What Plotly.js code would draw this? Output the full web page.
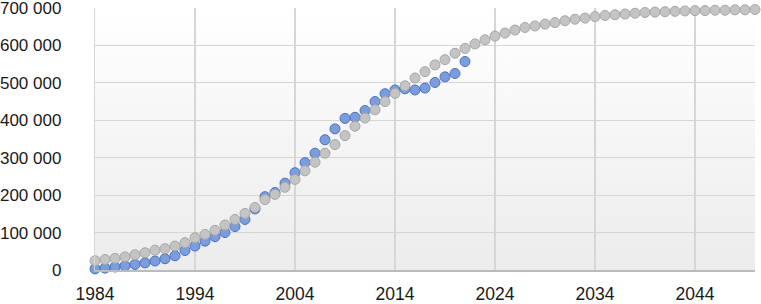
<!DOCTYPE html>
<html>
<head>
<meta charset="utf-8">
<script src="https://cdn.plot.ly/plotly-3.0.1.min.js"></script>
<style>
html,body{margin:0;padding:0;background:#fff;}
#chart{width:761px;height:304px;}
</style>
</head>
<body>
<div id="chart"></div>
<script>
// Blue series: observed, 1984–2021
const blueYears = [1984,1985,1986,1987,1988,1989,1990,1991,1992,1993,1994,1995,1996,1997,1998,1999,2000,2001,2002,2003,2004,2005,2006,2007,2008,2009,2010,2011,2012,2013,2014,2015,2016,2017,2018,2019,2020,2021];
const blueValues = [3000,5000,8000,11000,15000,19000,24000,30000,38000,52000,64000,77000,89000,100000,116000,135000,163000,196000,207000,232000,260000,287000,312000,348000,377000,405000,408000,426000,450000,471000,481000,484000,481000,486000,501000,516000,525000,557000];

// Gray series: model, 1984–2050
const grayYears = [1984,1985,1986,1987,1988,1989,1990,1991,1992,1993,1994,1995,1996,1997,1998,1999,2000,2001,2002,2003,2004,2005,2006,2007,2008,2009,2010,2011,2012,2013,2014,2015,2016,2017,2018,2019,2020,2021,2022,2023,2024,2025,2026,2027,2028,2029,2030,2031,2032,2033,2034,2035,2036,2037,2038,2039,2040,2041,2042,2043,2044,2045,2046,2047,2048,2049,2050];
const grayValues = [25000,28000,31000,35000,41000,46000,53000,57000,64000,73000,86000,95000,106000,120000,135000,151000,167000,188000,202000,221000,242000,265000,288000,312000,335000,359000,384000,406000,428000,450000,472000,492000,513000,530000,548000,562000,579000,592000,604000,615000,625000,633000,641000,648000,652000,657000,661000,666000,670000,673000,677000,680000,682000,684000,686000,688000,689000,690000,691000,692000,693000,693000,694000,694000,695000,695000,696000];

const xTickVals = [1984,1994,2004,2014,2024,2034,2044];
const yTickVals = [0,100000,200000,300000,400000,500000,600000,700000];

const bgSvg = '<svg xmlns="http://www.w3.org/2000/svg" width="100" height="100" preserveAspectRatio="none">' +
  '<defs><linearGradient id="g" x1="0" y1="0" x2="0" y2="1">' +
  '<stop offset="0" stop-color="#ffffff"/><stop offset="1" stop-color="#ececec"/></linearGradient></defs>' +
  '<rect width="100" height="100" fill="url(#g)"/></svg>';

const traces = [
  {
    x: blueYears, y: blueValues, type: 'scatter', mode: 'markers', cliponaxis: false,
    marker: {size: 10, color: '#7b9ddc', line: {color: '#4a72c4', width: 1}},
    hoverinfo: 'x+y'
  },
  {
    x: grayYears, y: grayValues, type: 'scatter', mode: 'markers', cliponaxis: false,
    marker: {size: 10, color: '#c4c4c4', line: {color: '#a6a6a6', width: 1}},
    hoverinfo: 'x+y'
  }
];

const layout = {
  width: 761, height: 304,
  margin: {l: 95, r: 6, t: 8, b: 33.5, pad: 0},
  paper_bgcolor: '#ffffff',
  plot_bgcolor: 'rgba(0,0,0,0)',
  showlegend: false,
  separators: '. ',
  font: {family: '"Liberation Sans", Arial, sans-serif', size: 17, color: '#1a1a1a'},
  images: [{
    source: 'data:image/svg+xml;utf8,' + encodeURIComponent(bgSvg),
    xref: 'paper', yref: 'paper', x: 0, y: 1, sizex: 1, sizey: 1,
    sizing: 'stretch', xanchor: 'left', yanchor: 'top', layer: 'below'
  }],
  xaxis: {
    range: [1984, 2050],
    tickvals: xTickVals,
    ticktext: xTickVals.map(String),
    showgrid: true, gridcolor: '#d6d6d6', gridwidth: 1.2,
    zeroline: false,
    showline: true, linecolor: '#bcbcbc', linewidth: 2,
    ticks: '', ticklabelstandoff: 7,
    ticklabeloverflow: 'allow',
    tickfont: {size: 17.5}
  },
  yaxis: {
    range: [0, 700000],
    tickvals: yTickVals,
    tickformat: ',d',
    showgrid: true, gridcolor: '#d6d6d6', gridwidth: 1.2,
    zeroline: false,
    showline: true, linecolor: '#d6d6d6', linewidth: 1.2,
    ticks: '', ticklabelstandoff: 29,
    ticklabeloverflow: 'allow',
    tickfont: {size: 17}
  }
};

Plotly.newPlot('chart', traces, layout, {staticPlot: true, displayModeBar: false});
</script>
</body>
</html>
